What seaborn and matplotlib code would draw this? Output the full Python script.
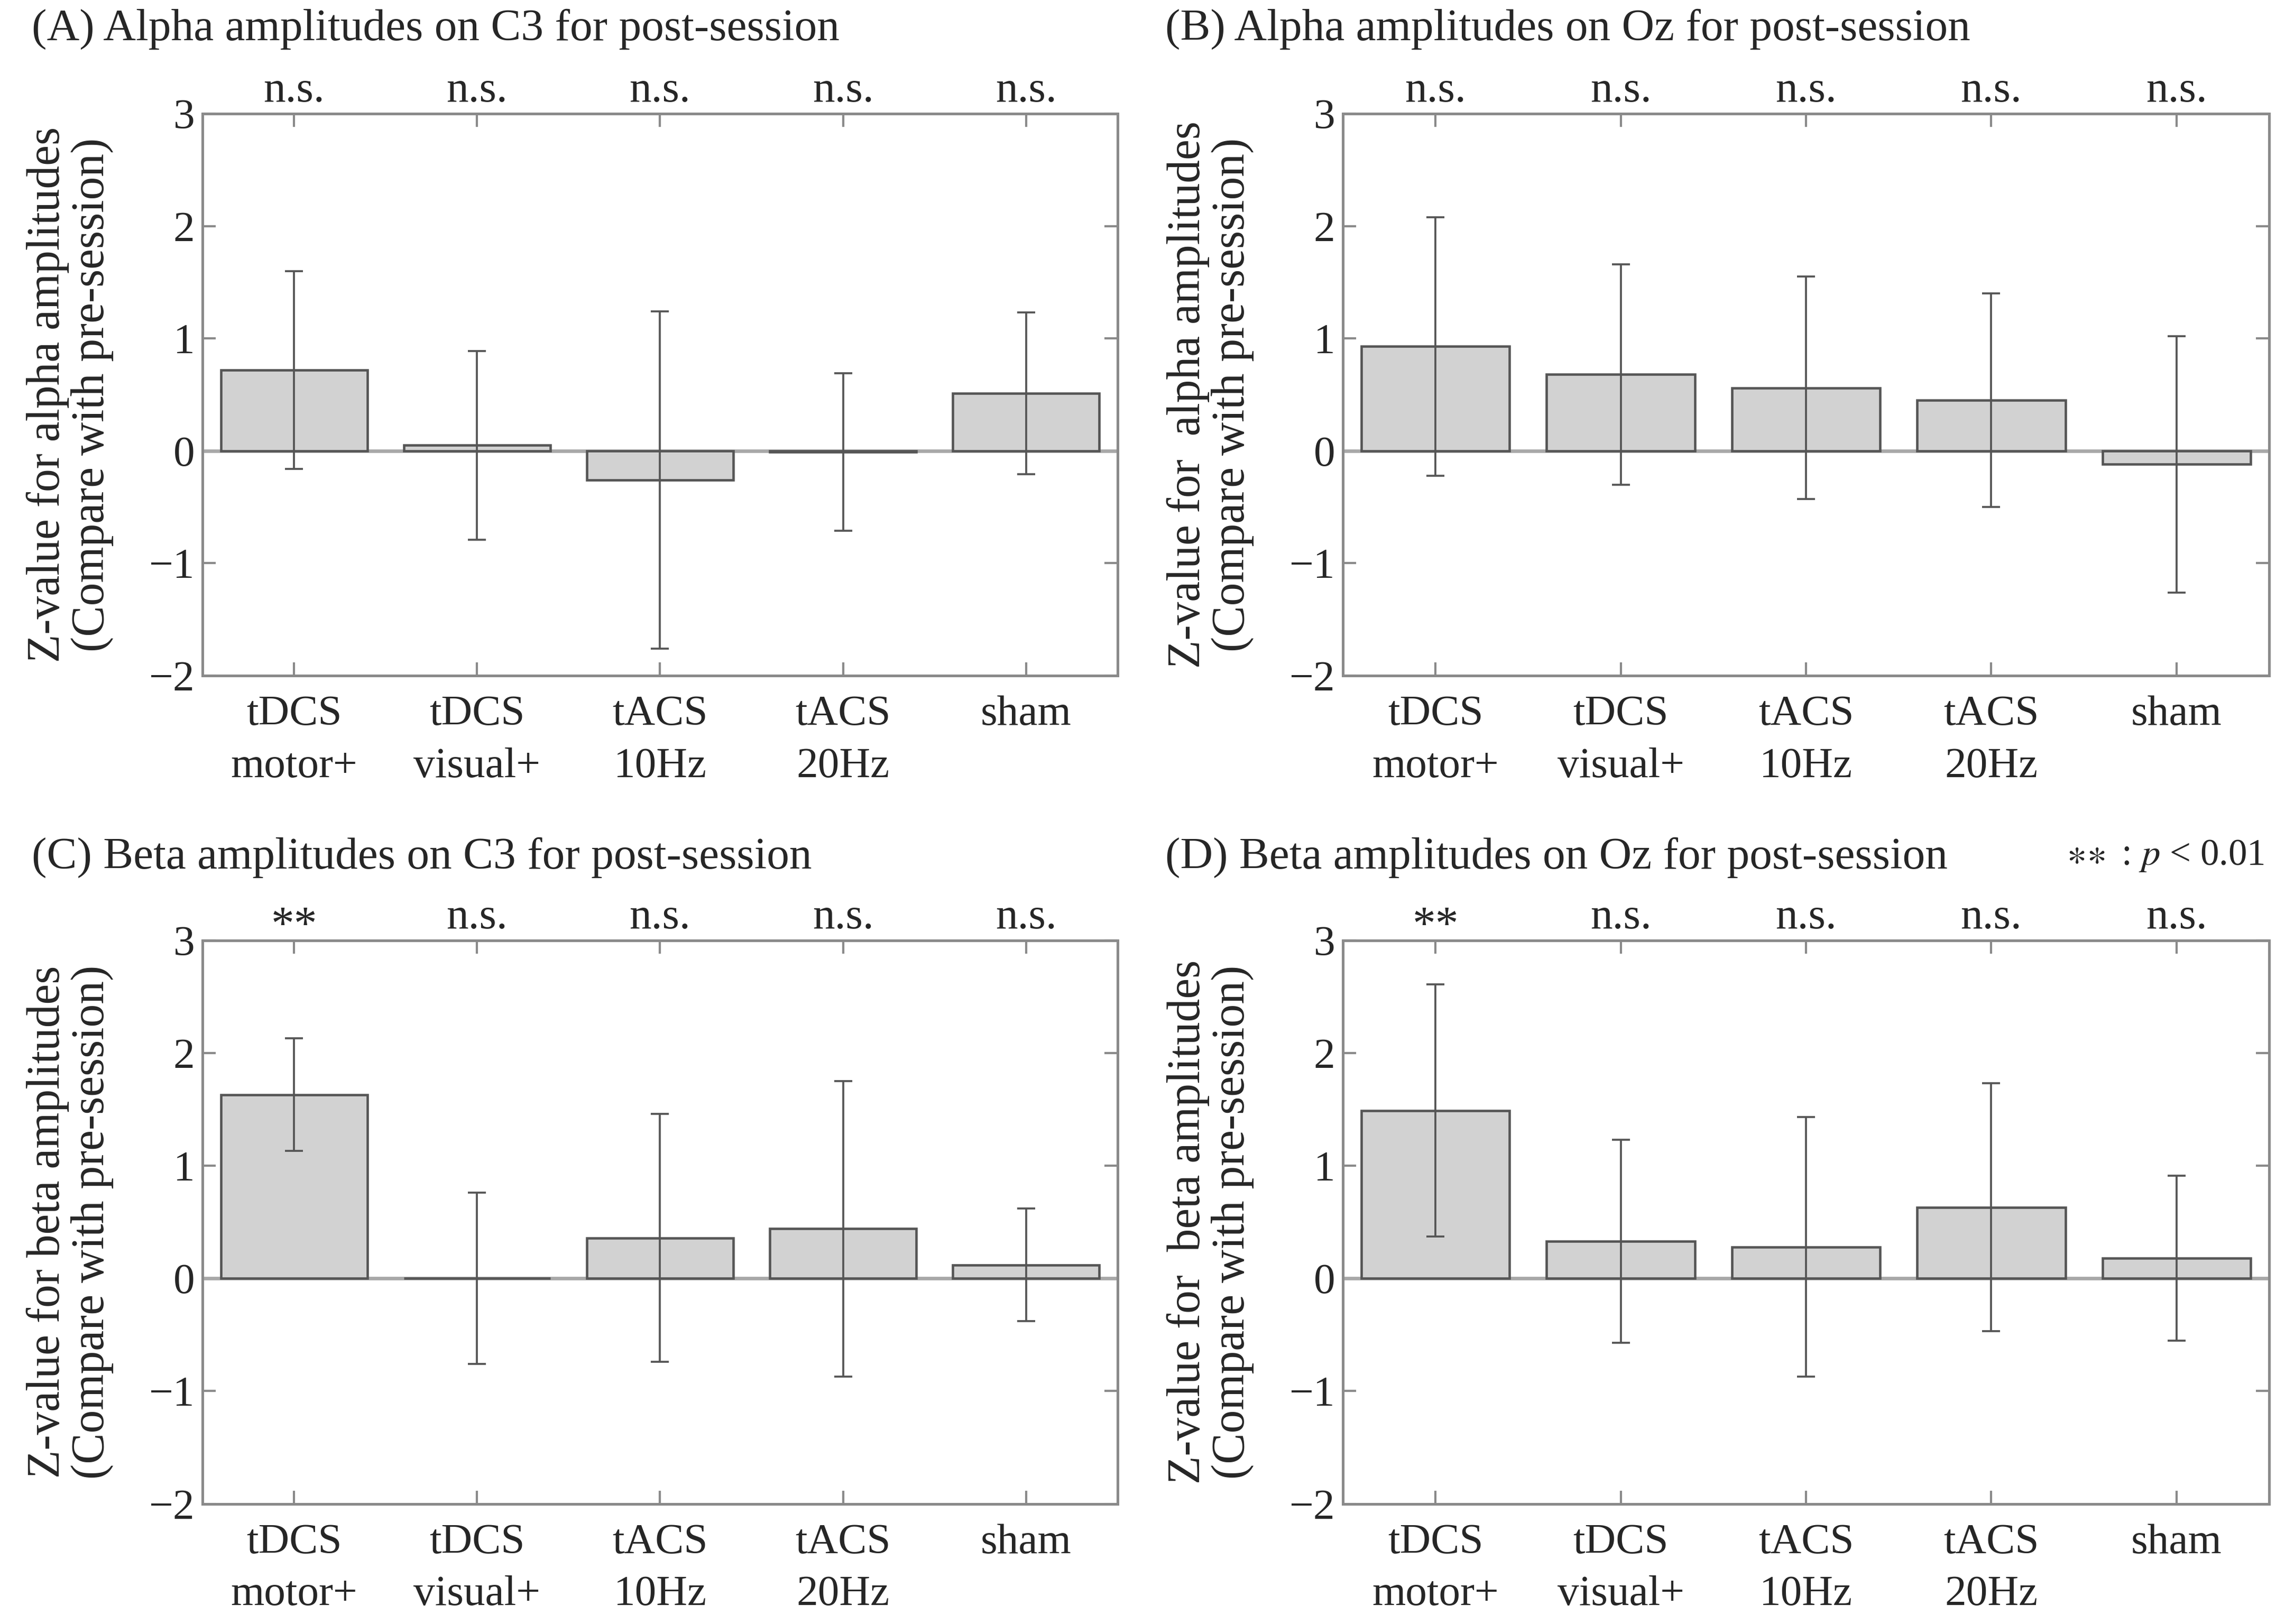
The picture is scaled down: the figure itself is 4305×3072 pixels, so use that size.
import numpy as np
import pandas as pd
import seaborn as sns
import matplotlib.pyplot as plt

# Conditions on the x axis
conditions = ["tDCS\nmotor+", "tDCS\nvisual+", "tACS\n10Hz", "tACS\n20Hz", "sham"]

# Mean z-values and error half-widths
alpha_c3_mean = [0.72, 0.05, -0.26, -0.01, 0.51]
alpha_c3_err = [0.88, 0.84, 1.50, 0.70, 0.72]
alpha_oz_mean = [0.93, 0.68, 0.56, 0.45, -0.12]
alpha_oz_err = [1.15, 0.98, 0.99, 0.95, 1.14]
beta_c3_mean = [1.63, 0.0, 0.36, 0.44, 0.12]
beta_c3_err = [0.50, 0.76, 1.10, 1.31, 0.50]
beta_oz_mean = [1.49, 0.33, 0.28, 0.63, 0.18]
beta_oz_err = [1.12, 0.90, 1.15, 1.10, 0.73]

# Significance marks above each bar
sig_alpha_c3 = ["n.s.", "n.s.", "n.s.", "n.s.", "n.s."]
sig_alpha_oz = ["n.s.", "n.s.", "n.s.", "n.s.", "n.s."]
sig_beta_c3 = ["**", "n.s.", "n.s.", "n.s.", "n.s."]
sig_beta_oz = ["**", "n.s.", "n.s.", "n.s.", "n.s."]

titles = [
    "(A) Alpha amplitudes on C3 for post-session",
    "(B) Alpha amplitudes on Oz for post-session",
    "(C) Beta amplitudes on C3 for post-session",
    "(D) Beta amplitudes on Oz for post-session",
]
ylabels = [
    "Z-value for alpha amplitudes\n(Compare with pre-session)",
    "Z-value for  alpha amplitudes\n(Compare with pre-session)",
    "Z-value for beta amplitudes\n(Compare with pre-session)",
    "Z-value for  beta amplitudes\n(Compare with pre-session)",
]

sns.set_theme(style="ticks")
plt.rcParams["font.family"] = ["Liberation Serif", "DejaVu Serif"]
plt.rcParams["mathtext.fontset"] = "stix"
fs_tick = 19.5
fs_title = 20.5
fs_sig = 20
fs_ylab = 21

fig = plt.figure(figsize=(14.35, 10.24), dpi=300)

# axes boxes [left, bottom, width, height]
boxes = [
    [0.089, 0.584, 0.402, 0.346],
    [0.590, 0.584, 0.407, 0.346],
    [0.089, 0.074, 0.402, 0.347],
    [0.590, 0.074, 0.407, 0.347],
]
title_pos = [(0.014, 0.982), (0.512, 0.982), (0.014, 0.472), (0.512, 0.472)]

panels = [
    (alpha_c3_mean, alpha_c3_err, sig_alpha_c3),
    (alpha_oz_mean, alpha_oz_err, sig_alpha_oz),
    (beta_c3_mean, beta_c3_err, sig_beta_c3),
    (beta_oz_mean, beta_oz_err, sig_beta_oz),
]

axis_grey = "#8a8a8a"

for k, (means, errs, sigs) in enumerate(panels):
    ax = fig.add_axes(boxes[k])
    df = pd.DataFrame({"cond": conditions, "z": means})
    sns.barplot(data=df, x="cond", y="z", color="#d2d2d2", saturation=1,
                edgecolor="#555555", linewidth=1.1, width=0.8, ax=ax, zorder=2)
    ax.errorbar(np.arange(len(means)), means, yerr=errs, fmt="none",
                ecolor="#555555", elinewidth=0.9, capsize=4, capthick=0.9, zorder=3)
    ax.axhline(0, color="#a8a8a8", lw=1.6, zorder=1)

    ax.set_xlim(-0.5, 4.5)
    ax.set_ylim(-2, 3)
    ax.set_yticks([-2, -1, 0, 1, 2, 3])
    ax.set_xlabel("")
    ax.set_ylabel(ylabels[k], fontsize=fs_ylab, labelpad=16, linespacing=1.05)
    ax.tick_params(axis="both", direction="in", top=True, right=True,
                   length=6, width=1.0, color=axis_grey, labelsize=fs_tick)
    ax.tick_params(axis="x", pad=9)
    for sp in ax.spines.values():
        sp.set_color(axis_grey)
        sp.set_linewidth(1.2)
    for lab in ax.get_xticklabels():
        lab.set_linespacing(1.45)

    for i, s in enumerate(sigs):
        if s == "**":
            ax.text(i, 3.12, s, ha="center", va="center",
                    fontsize=fs_sig + 1, clip_on=False)
        else:
            ax.text(i, 3.2, s, ha="center", va="center", fontsize=fs_sig,
                    clip_on=False)

    fig.text(title_pos[k][0], title_pos[k][1], titles[k], ha="left", va="center",
             fontsize=fs_title)

fig.text(0.995, 0.473, r"$\ast\!\ast$ : $p$ < 0.01", ha="right", va="center",
         fontsize=17)

fig.savefig("out.png", dpi=300)
